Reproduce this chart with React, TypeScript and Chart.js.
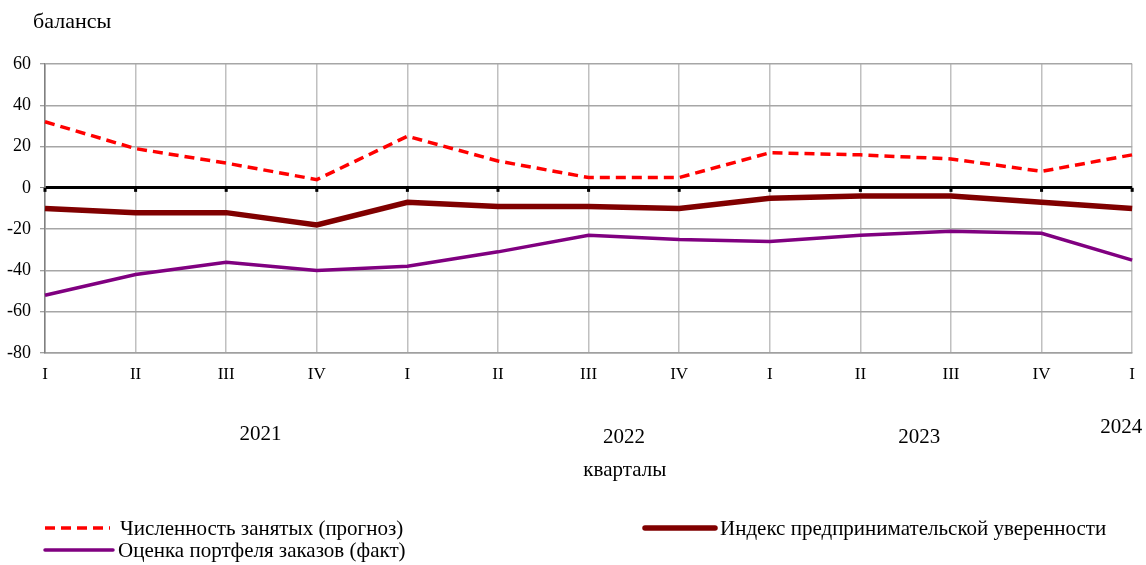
import React, { useEffect, useRef } from "react";
import { Chart, registerables } from "chart.js";
Chart.register(...registerables);

const quarters = ["I", "II", "III", "IV", "I", "II", "III", "IV", "I", "II", "III", "IV", "I"];
const employment = [32, 19, 12, 4, 25, 13, 5, 5, 17, 16, 14, 8, 16];
const confidence = [-10, -12, -12, -18, -7, -9, -9, -10, -5, -4, -4, -7, -10];
const orders = [-52, -42, -36, -40, -38, -31, -23, -25, -26, -23, -21, -22, -35];
const years = ["2021", "2022", "2023", "2024"];
const yTitle = "балансы";
const xTitle = "кварталы";
const seriesNames = [
  "Численность занятых (прогноз)",
  "Индекс предпринимательской уверенности",
  "Оценка портфеля заказов (факт)",
];

const FONT = '"Liberation Serif", "Times New Roman", serif';

const overlayPlugin = {
  id: "overlay",
  afterDatasetsDraw(chart: any) {
    const ctx = chart.ctx;
    const xs = chart.scales.x;
    const ys = chart.scales.y;
    const y0 = ys.getPixelForValue(0);
    ctx.save();
    ctx.fillStyle = "#000";
    for (let i = 0; i < quarters.length; i++) {
      const x = xs.getPixelForValue(i);
      ctx.fillRect(x - 1.5, y0, 3, 4);
    }
    ctx.restore();
  },
  afterDraw(chart: any) {
    const ctx = chart.ctx;
    const xs = chart.scales.x;
    ctx.save();
    ctx.fillStyle = "#000";
    ctx.textBaseline = "middle";
    ctx.textAlign = "center";
    ctx.font = "21px " + FONT;
    const yearIdx = [2.38, 6.39, 9.65, 11.88];
    const yearY = [434, 437, 437, 427];
    years.forEach((yr, i) => {
      ctx.fillText(yr, xs.getPixelForValue(yearIdx[i]), yearY[i]);
    });
    ctx.fillText(xTitle, xs.getPixelForValue(6.4), 470);
    ctx.textAlign = "left";
    ctx.font = "22px " + FONT;
    ctx.fillText(yTitle, 33, 22);

    // legend
    ctx.font = "21px " + FONT;
    const ds = chart.data.datasets;
    const items = [
      { d: ds[0], x1: 45, x2: 110, tx: 120, y: 528 },
      { d: ds[1], x1: 645, x2: 715, tx: 720, y: 528 },
      { d: ds[2], x1: 45, x2: 113, tx: 118, y: 550 },
    ];
    items.forEach((it) => {
      ctx.save();
      ctx.strokeStyle = it.d.borderColor;
      ctx.lineWidth = it.d.borderWidth;
      ctx.lineCap = it.d.borderDash && it.d.borderDash.length ? "butt" : "round";
      ctx.setLineDash(it.d.borderDash || []);
      ctx.beginPath();
      ctx.moveTo(it.x1, it.y);
      ctx.lineTo(it.x2, it.y);
      ctx.stroke();
      ctx.restore();
      ctx.fillText(it.d.label, it.tx, it.y + 1);
    });
    ctx.restore();
  },
};

export default function App() {
  const ref = useRef<HTMLCanvasElement | null>(null);
  useEffect(() => {
    if (!ref.current) return;
    const chart = new Chart(ref.current, {
      type: "line",
      data: {
        labels: quarters,
        datasets: [
          {
            label: seriesNames[0],
            data: employment,
            borderColor: "#ff0000",
            borderWidth: 3.5,
            borderDash: [10, 6],
            pointRadius: 0,
            tension: 0,
            fill: false,
          },
          {
            label: seriesNames[1],
            data: confidence,
            borderColor: "#800000",
            borderWidth: 5.5,
            pointRadius: 0,
            tension: 0,
            fill: false,
          },
          {
            label: seriesNames[2],
            data: orders,
            borderColor: "#800080",
            borderWidth: 3.5,
            pointRadius: 0,
            tension: 0,
            fill: false,
          },
        ],
      },
      options: {
        responsive: false,
        animation: false,
        layout: { padding: { top: 64, right: 8, bottom: 0, left: 0 } },
        plugins: {
          legend: { display: false },
          tooltip: { enabled: false },
          title: { display: false },
        },
        scales: {
          x: {
            offset: false,
            afterFit: (axis: any) => {
              axis.height = 212;
            },
            grid: {
              color: "#c0c0c0",
              lineWidth: 1.5,
              drawTicks: false,
            },
            border: { color: "#a0a0a0", width: 1.5 },
            ticks: {
              color: "#000",
              padding: 11,
              maxRotation: 0,
              autoSkip: false,
              font: { family: FONT, size: 17 },
            },
          },
          y: {
            min: -80,
            max: 60,
            afterFit: (axis: any) => {
              axis.width = 45;
            },
            grid: {
              color: (c: any) => (c.tick && c.tick.value === 0 ? "#000" : "#a6a6a6"),
              lineWidth: (c: any) => (c.tick && c.tick.value === 0 ? 3 : 1.5),
              tickColor: "#808080",
              tickWidth: 1,
              tickLength: 5,
            },
            border: { color: "#808080", width: 1.5 },
            ticks: {
              stepSize: 20,
              color: "#000",
              padding: 9,
              font: { family: FONT, size: 18 },
            },
          },
        },
      },
      plugins: [overlayPlugin],
    } as any);
    return () => chart.destroy();
  }, []);
  return (
    <div style={{ position: "absolute", left: 0, top: 0, width: 1146, height: 565, background: "#fff" }}>
      <canvas ref={ref} width={1146} height={565} style={{ width: 1146, height: 565, display: "block" }} />
    </div>
  );
}
